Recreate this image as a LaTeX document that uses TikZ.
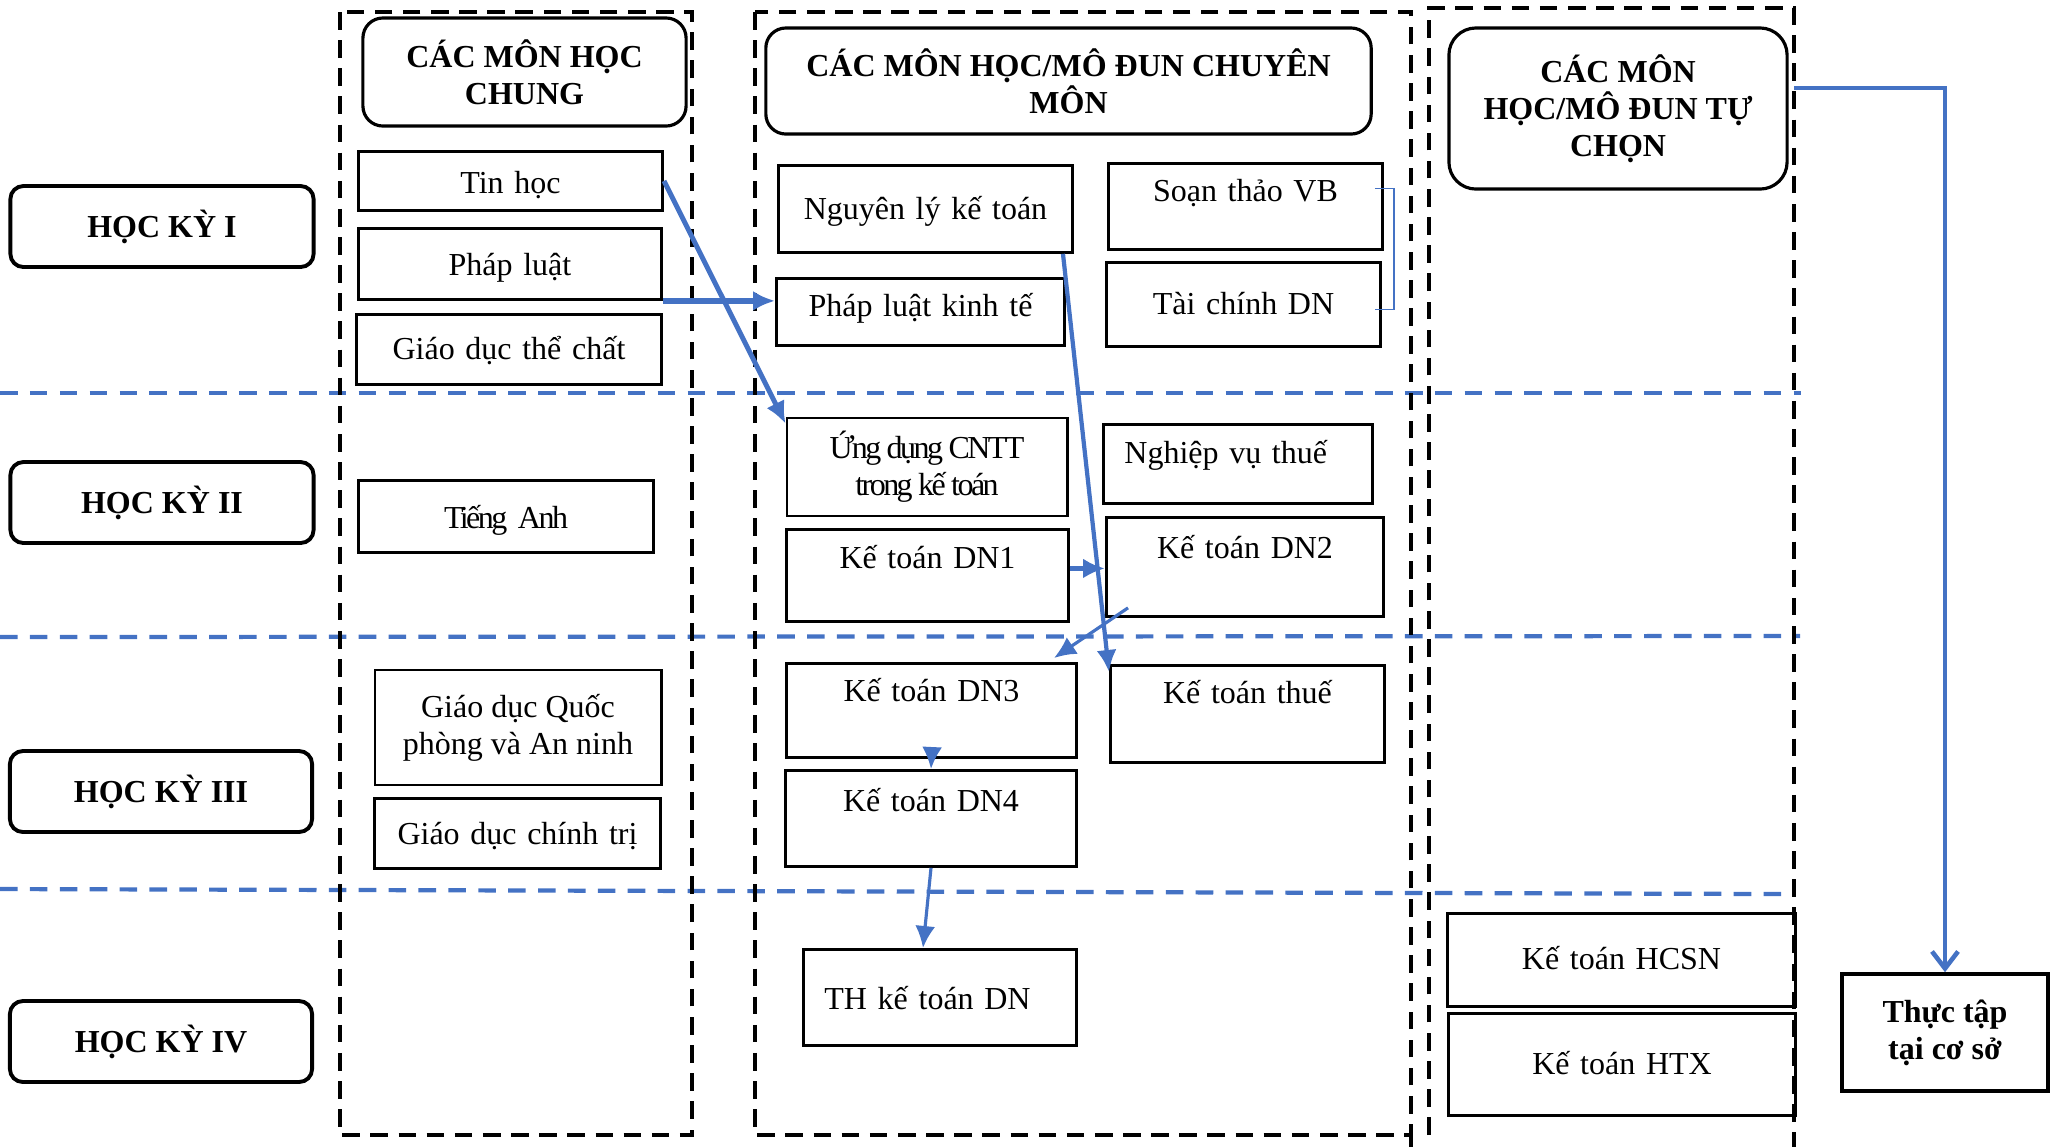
\documentclass[tikz,border=0pt]{standalone}
\usepackage{fontspec}
\setmainfont{Liberation Serif}
\newfontfamily\tightserif[LetterSpace=-8]{Liberation Serif}
\usetikzlibrary{arrows.meta}
\definecolor{lineblue}{RGB}{68,114,196}
\tikzset{
	course/.style   = {shape=rectangle, draw, inner sep=0pt, line width=0.8pt,
		align=center, anchor=north west},
	semester/.style = {shape=rectangle, rounded corners=0.13cm, draw, line width=1.1pt,
		inner sep=0pt, font=\bfseries, minimum width=3.03cm, minimum height=0.81cm},
	heading/.style  = {shape=rectangle, rounded corners=0.2cm, draw, line width=0.9pt,
		inner sep=0pt, align=center, font=\bfseries},
	colbox/.style   = {draw, line width=1.3pt, dash pattern=on 5pt off 3pt},
	divider/.style  = {draw=lineblue, line width=1.2pt, dash pattern=on 5pt off 3.5pt},
	link/.style     = {draw=lineblue, line width=1.2pt, -{Latex[length=2.2mm,width=2mm]}},
	bracket/.style  = {draw=lineblue, line width=0.5pt}
}

\begin{document}
\fontsize{9.1}{10.5}\selectfont
\begin{tikzpicture}[x=0.01cm, y=-0.01cm]
\useasboundingbox (0,0) rectangle (2055,1147);
% semester dividers
\draw[divider] (0,393) -- (1801,393);
\draw[divider] (0,637) -- (1800,636);
\draw[divider] (0,889) -- (1782,894);
% column frames
\draw[colbox] (340,12) rectangle (692,1135);
\draw[colbox] (755,12) rectangle (1411,1135);
\draw[colbox] (1411,1135) -- (1411,1147);
\draw[colbox] (1429,1135) -- (1429,8) -- (1794,8) -- (1794,1147);
\coordinate (optEdge) at (1794,88);
% semesters
\node[semester] (sem1) at (162,226.5) {HỌC KỲ I};
\node[semester] (sem2) at (162,502.5) {HỌC KỲ II};
\node[semester, minimum width=3.02cm] (sem3) at (161,791.5) {HỌC KỲ III};
\node[semester, minimum width=3.02cm] (sem4) at (161,1041.5) {HỌC KỲ IV};
% headings
\node[heading, minimum width=3.23cm, minimum height=1.08cm] (hdrCommon) at (524.5,72) {CÁC MÔN HỌC\\CHUNG};
\node[heading, minimum width=6.05cm, minimum height=1.06cm] (hdrMajor) at (1068.5,81) {CÁC MÔN HỌC/MÔ ĐUN CHUYÊN\\MÔN};
\node[heading, rounded corners=0.27cm, minimum width=3.38cm, minimum height=1.61cm] (hdrElective) at (1618,108.5) {CÁC MÔN\\HỌC/MÔ ĐUN TỰ\\CHỌN};
% common subjects
\node[course, text width=3.04cm, text height=0.42cm, text depth=0.17cm] (tin) at (357,150) {Tin học};
\node[course, text width=3.03cm, text height=0.47cm, text depth=0.24cm] (phapluat) at (357,227) {Pháp luật};
\node[course, text width=3.05cm, text height=0.45cm, text depth=0.25cm] (theduc) at (355,313) {Giáo dục thể chất};
\node[course, text width=2.95cm, text height=0.48cm, text depth=0.24cm, font=\tightserif] (tienganh) at (357,479) {Tiếng Anh};
\node[course, anchor=center, minimum width=2.86cm, minimum height=1.15cm] (quocphong) at (518,727.5) {Giáo dục Quốc\\phòng và An ninh};
\node[course, text width=2.86cm, text height=0.46cm, text depth=0.24cm] (chinhtri) at (373,797) {Giáo dục chính trị};
% major subjects
\node[course, text width=2.94cm, text height=0.54cm, text depth=0.33cm] (nguyenly) at (777,164) {Nguyên lý kế toán};
\node[course, text width=2.88cm, text height=0.38cm, text depth=0.29cm] (plkt) at (775,277) {Pháp luật kinh tế};
\node[course, text width=2.74cm, text height=0.38cm, text depth=0.48cm] (soanthao) at (1107,162) {Soạn thảo VB};
\node[course, text width=2.74cm, text height=0.52cm, text depth=0.32cm] (taichinh) at (1105,261) {Tài chính DN};
\node[course, anchor=center, minimum width=2.80cm, minimum height=0.98cm, font=\tightserif] (ungdung) at (927,467) {Ứng dụng CNTT\\trong kế toán};
\node[course, text width=2.69cm, text height=0.39cm, text depth=0.40cm, align=left] (nghiepvu) at (1102,423) {\hspace*{2.1mm}Nghiệp vụ thuế};
\node[course, text width=2.82cm, text height=0.39cm, text depth=0.53cm] (dn1) at (785,528) {Kế toán DN1};
\node[course, text width=2.77cm, text height=0.41cm, text depth=0.58cm] (dn2) at (1105,516) {Kế toán DN2};
\node[course, text width=2.90cm, text height=0.38cm, text depth=0.56cm] (dn3) at (785,662) {Kế toán DN3};
\node[course, text width=2.74cm, text height=0.38cm, text depth=0.59cm] (ktthue) at (1109,664) {Kế toán thuế};
\node[course, text width=2.91cm, text height=0.41cm, text depth=0.55cm] (dn4) at (784,769) {Kế toán DN4};
\node[course, text width=2.73cm, text height=0.60cm, text depth=0.36cm, align=left] (thdn) at (802,948) {\hspace*{2.1mm}TH kế toán DN};
% elective subjects
\node[course, text width=3.48cm, text height=0.56cm, text depth=0.37cm] (hcsn) at (1446,912) {Kế toán HCSN};
\node[course, text width=3.47cm, text height=0.61cm, text depth=0.41cm] (htx) at (1447,1012) {Kế toán HTX};
\node[course, anchor=center, minimum width=2.06cm, minimum height=1.17cm, line width=1pt, font=\bfseries] (thuctap) at (1945,1032.5) {Thực tập\\tại cơ sở};
% prerequisites
\draw[link, line width=1.4pt] (tin.east) -- ([yshift=-0.07cm]ungdung.north west);
\draw[link, line width=1.6pt] (phapluat.south east) -- (plkt.west |- phapluat.south east);
\draw[link] ([xshift=-0.11cm]nguyenly.south east) -- ([yshift=-0.08cm]ktthue.north west);
\draw[link, line width=1.6pt] (dn1.base east) -- (dn2.west |- dn1.base east);
\draw[link, line width=0.9pt] ([xshift=0.23cm,yshift=0.10cm]dn2.south west) -- ([xshift=-0.24cm,yshift=0.04cm]dn3.north east);
\draw[link, line width=0.9pt] (dn3.south) -- (dn4.north);
\draw[link, line width=0.9pt] (dn4.south) -- ([xshift=-0.17cm]thdn.north);
\draw[bracket] ([shift={(-0.09cm,0.18cm)}]soanthao.east) -- ([shift={(0.10cm,0.18cm)}]soanthao.east)
	|- ([shift={(-0.07cm,-0.05cm)}]taichinh.east);
\draw[draw=lineblue, line width=1.3pt, -{Straight Barb[length=1.7mm,width=2.6mm]}] (optEdge) -| (thuctap.north);
\end{tikzpicture}
\end{document}
